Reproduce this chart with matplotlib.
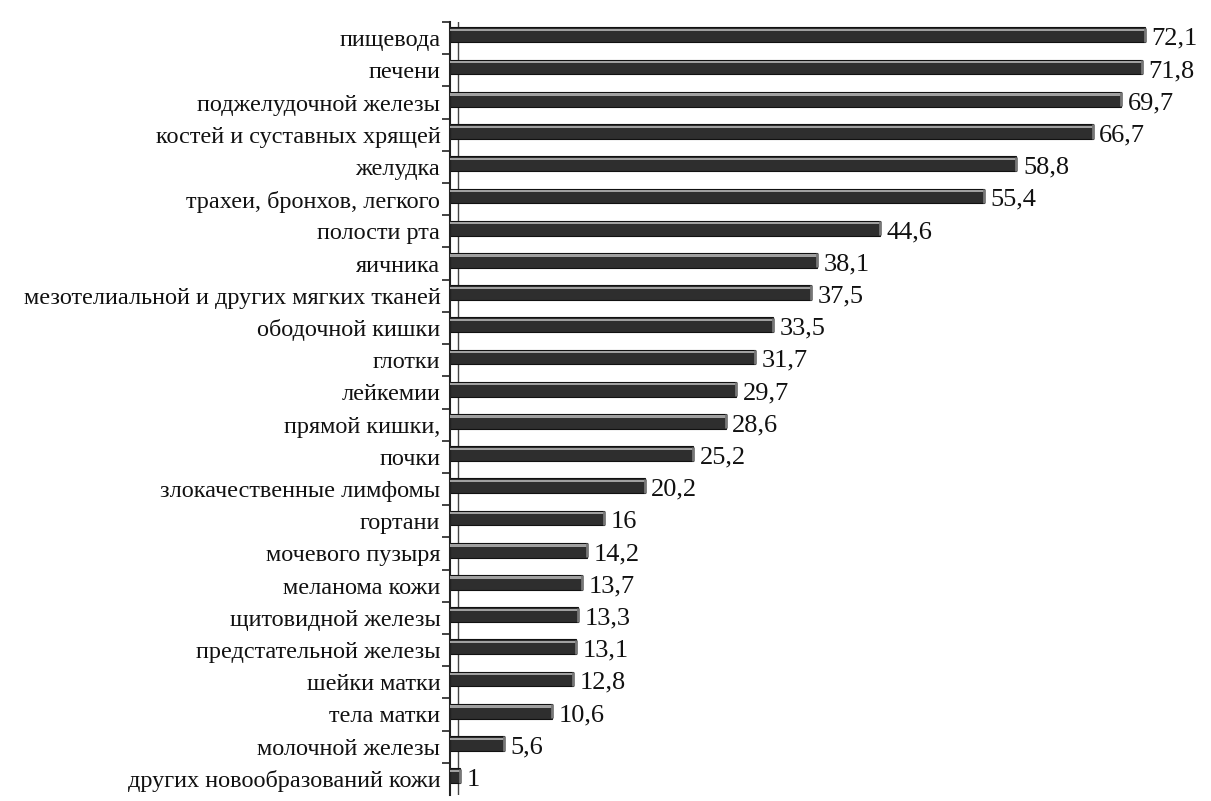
import matplotlib.pyplot as plt
from matplotlib.ticker import FixedLocator

plt.rcParams['font.family'] = ['Liberation Serif', 'DejaVu Serif']

# локализации опухолей и показатели (сверху вниз)
sites = [
    'пищевода', 'печени', 'поджелудочной железы', 'костей и суставных хрящей',
    'желудка', 'трахеи, бронхов, легкого', 'полости рта', 'яичника',
    'мезотелиальной и других мягких тканей', 'ободочной кишки', 'глотки',
    'лейкемии', 'прямой кишки,', 'почки', 'злокачественные лимфомы',
    'гортани', 'мочевого пузыря', 'меланома кожи', 'щитовидной железы',
    'предстательной железы', 'шейки матки', 'тела матки',
    'молочной железы', 'других новообразований кожи',
]
values = [72.1, 71.8, 69.7, 66.7, 58.8, 55.4, 44.6, 38.1, 37.5, 33.5, 31.7,
          29.7, 28.6, 25.2, 20.2, 16, 14.2, 13.7, 13.3, 13.1, 12.8, 10.6,
          5.6, 1]
value_labels = [str(v).replace('.', ',') for v in values]

fig = plt.figure(figsize=(12.11, 8.01), dpi=100)
ax = fig.add_axes([450 / 1211, 6 / 801, 1 - 450 / 1211, 773 / 801])

ypos = list(range(len(sites)))
bar_y = [y - 0.1 for y in ypos]

# тёмное тело столбца, светлая верхняя грань и торец
ax.barh(bar_y, values, height=0.46, color='#2e2e2e', edgecolor='#111111',
        linewidth=0.8, zorder=2)
ax.barh([y - 0.15 for y in bar_y], values, height=0.07, color='#a0a0a0',
        linewidth=0, zorder=3)
ax.vlines(values, [y - 0.22 for y in bar_y], [y + 0.22 for y in bar_y],
          color='#777777', linewidth=2, zorder=4)
# задняя стенка оси
ax.axvline(0.8, color='#444444', linewidth=1, zorder=1)

for y, v, lab in zip(ypos, values, value_labels):
    ax.text(v + 0.7, y + 0.02, lab, va='center', ha='left', fontsize=19,
            color='#111111')

ax.set_xlim(0, 79)
ax.set_ylim(len(sites) - 0.5, -0.5)

ax.yaxis.set_major_locator(FixedLocator(ypos))
ax.set_yticklabels(sites, fontsize=17.5, color='#111111')
ax.yaxis.set_minor_locator(FixedLocator([y + 0.5 for y in ypos[:-1]] + [-0.5]))
ax.tick_params(axis='y', which='major', length=0, pad=7)
ax.tick_params(axis='y', which='minor', length=6, width=1.2, color='#222222')
ax.set_xticks([])

for side in ('top', 'right', 'bottom'):
    ax.spines[side].set_visible(False)
ax.spines['left'].set_linewidth(1.5)
ax.spines['left'].set_color('#222222')

fig.savefig('out.png', dpi=100, facecolor='white')
